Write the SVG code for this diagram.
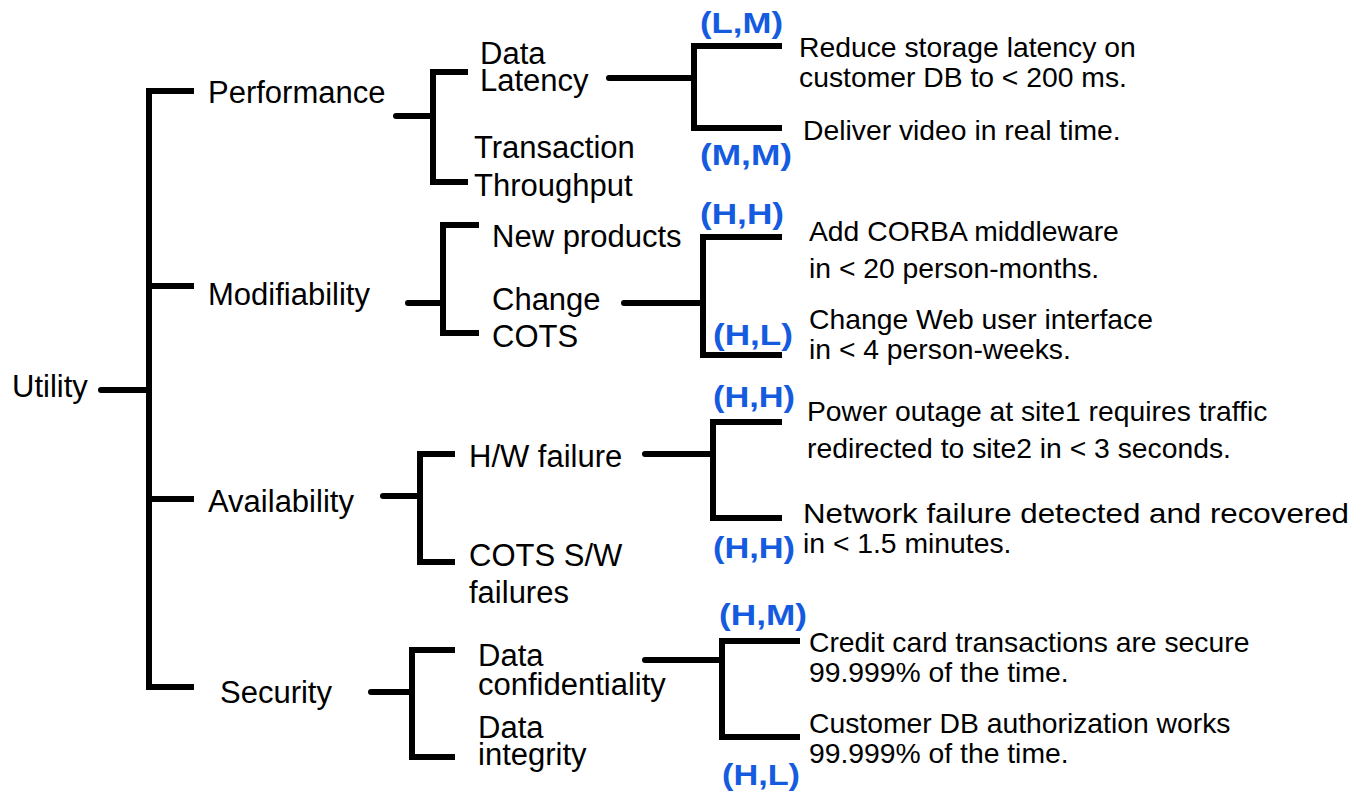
<svg xmlns="http://www.w3.org/2000/svg" width="1354" height="792" viewBox="0 0 1354 792">
<style>
  .lbl{font-family:"Liberation Sans",Arial,sans-serif;font-size:31px;fill:#000}
  .req{font-family:"Liberation Sans",Arial,sans-serif;font-size:28.3px;fill:#000}
  .pri{font-family:"Liberation Sans",Arial,sans-serif;font-size:29px;font-weight:bold;fill:#155be0}
  .br{fill:none;stroke:#000;stroke-width:6;stroke-linejoin:miter;stroke-linecap:butt}
  .st{fill:none;stroke:#000;stroke-width:6;stroke-linecap:round}
</style>
<rect width="1354" height="792" fill="#fff"/>
<g id="connectors">
  <line class="st" x1="101" y1="390" x2="149" y2="390"/>
  <path class="br" d="M194,91 H149 V687 H194"/>
  <line class="br" x1="149" y1="286" x2="194" y2="286"/>
  <line class="br" x1="149" y1="499" x2="194" y2="499"/>
  <line class="st" x1="396" y1="116" x2="433" y2="116"/>
  <path class="br" d="M468,72 H433 V182 H468"/>
  <line class="st" x1="609" y1="78" x2="694" y2="78"/>
  <path class="br" d="M782,46 H694 V128 H782"/>
  <line class="st" x1="408" y1="303" x2="443" y2="303"/>
  <path class="br" d="M479,225 H443 V333 H479"/>
  <line class="st" x1="624" y1="303" x2="703" y2="303"/>
  <path class="br" d="M782,237 H703 V355 H782"/>
  <line class="st" x1="383" y1="496" x2="420" y2="496"/>
  <path class="br" d="M455,454 H420 V562 H455"/>
  <line class="st" x1="645" y1="454" x2="713" y2="454"/>
  <path class="br" d="M782,422 H713 V518 H782"/>
  <line class="st" x1="371" y1="692" x2="412" y2="692"/>
  <path class="br" d="M455,650 H412 V757 H455"/>
  <line class="st" x1="645" y1="660" x2="722" y2="660"/>
  <path class="br" d="M800,641 H722 V737 H800"/>
</g>
<g id="utility"><text class="lbl" x="12" y="397">Utility</text></g>
<g id="performance"><text class="lbl" x="208" y="103">Performance</text></g>
<g id="modifiability"><text class="lbl" x="208" y="305">Modifiability</text></g>
<g id="availability"><text class="lbl" x="208" y="512">Availability</text></g>
<g id="security"><text class="lbl" x="220" y="703">Security</text></g>
<g id="data-latency"><text class="lbl" x="480" y="64">Data</text><text class="lbl" x="480" y="91">Latency</text></g>
<g id="transaction-throughput"><text class="lbl" x="474" y="158">Transaction</text><text class="lbl" x="474" y="196">Throughput</text></g>
<g id="new-products"><text class="lbl" x="492" y="247">New products</text></g>
<g id="change-cots"><text class="lbl" x="492" y="310">Change</text><text class="lbl" x="492" y="347">COTS</text></g>
<g id="hw-failure"><text class="lbl" x="469" y="467">H/W failure</text></g>
<g id="cots-sw-failures"><text class="lbl" x="469" y="566">COTS S/W</text><text class="lbl" x="469" y="603">failures</text></g>
<g id="data-confidentiality"><text class="lbl" x="478" y="666">Data</text><text class="lbl" x="478" y="695">confidentiality</text></g>
<g id="data-integrity"><text class="lbl" x="478" y="738">Data</text><text class="lbl" x="478" y="765">integrity</text></g>
<g id="s1">
  <text class="pri" x="700" y="33" textLength="83" lengthAdjust="spacingAndGlyphs">(L,M)</text>
  <text class="req" x="799" y="57">Reduce storage latency on</text>
  <text class="req" x="799" y="87">customer DB to &lt; 200 ms.</text>
</g>
<g id="s2">
  <text class="pri" x="700" y="165" textLength="92" lengthAdjust="spacingAndGlyphs">(M,M)</text>
  <text class="req" x="803" y="140">Deliver video in real time.</text>
</g>
<g id="s3">
  <text class="pri" x="700" y="224" textLength="84" lengthAdjust="spacingAndGlyphs">(H,H)</text>
  <text class="req" x="809" y="241">Add CORBA middleware</text>
  <text class="req" x="809" y="278">in &lt; 20 person-months.</text>
</g>
<g id="s4">
  <text class="pri" x="713" y="345" textLength="80" lengthAdjust="spacingAndGlyphs">(H,L)</text>
  <text class="req" x="809" y="329">Change Web user interface</text>
  <text class="req" x="809" y="359">in &lt; 4 person-weeks.</text>
</g>
<g id="s5">
  <text class="pri" x="713" y="407" textLength="82" lengthAdjust="spacingAndGlyphs">(H,H)</text>
  <text class="req" x="807" y="421">Power outage at site1 requires traffic</text>
  <text class="req" x="807" y="458">redirected to site2 in &lt; 3 seconds.</text>
</g>
<g id="s6">
  <text class="pri" x="713" y="558" textLength="82" lengthAdjust="spacingAndGlyphs">(H,H)</text>
  <text class="req" x="803" y="523" textLength="546" lengthAdjust="spacingAndGlyphs">Network failure detected and recovered</text>
  <text class="req" x="803" y="553">in &lt; 1.5 minutes.</text>
</g>
<g id="s7">
  <text class="pri" x="719" y="625" textLength="88" lengthAdjust="spacingAndGlyphs">(H,M)</text>
  <text class="req" x="809" y="652">Credit card transactions are secure</text>
  <text class="req" x="809" y="682">99.999% of the time.</text>
</g>
<g id="s8">
  <text class="pri" x="722" y="785" textLength="78" lengthAdjust="spacingAndGlyphs">(H,L)</text>
  <text class="req" x="809" y="733">Customer DB authorization works</text>
  <text class="req" x="809" y="763">99.999% of the time.</text>
</g>
</svg>
